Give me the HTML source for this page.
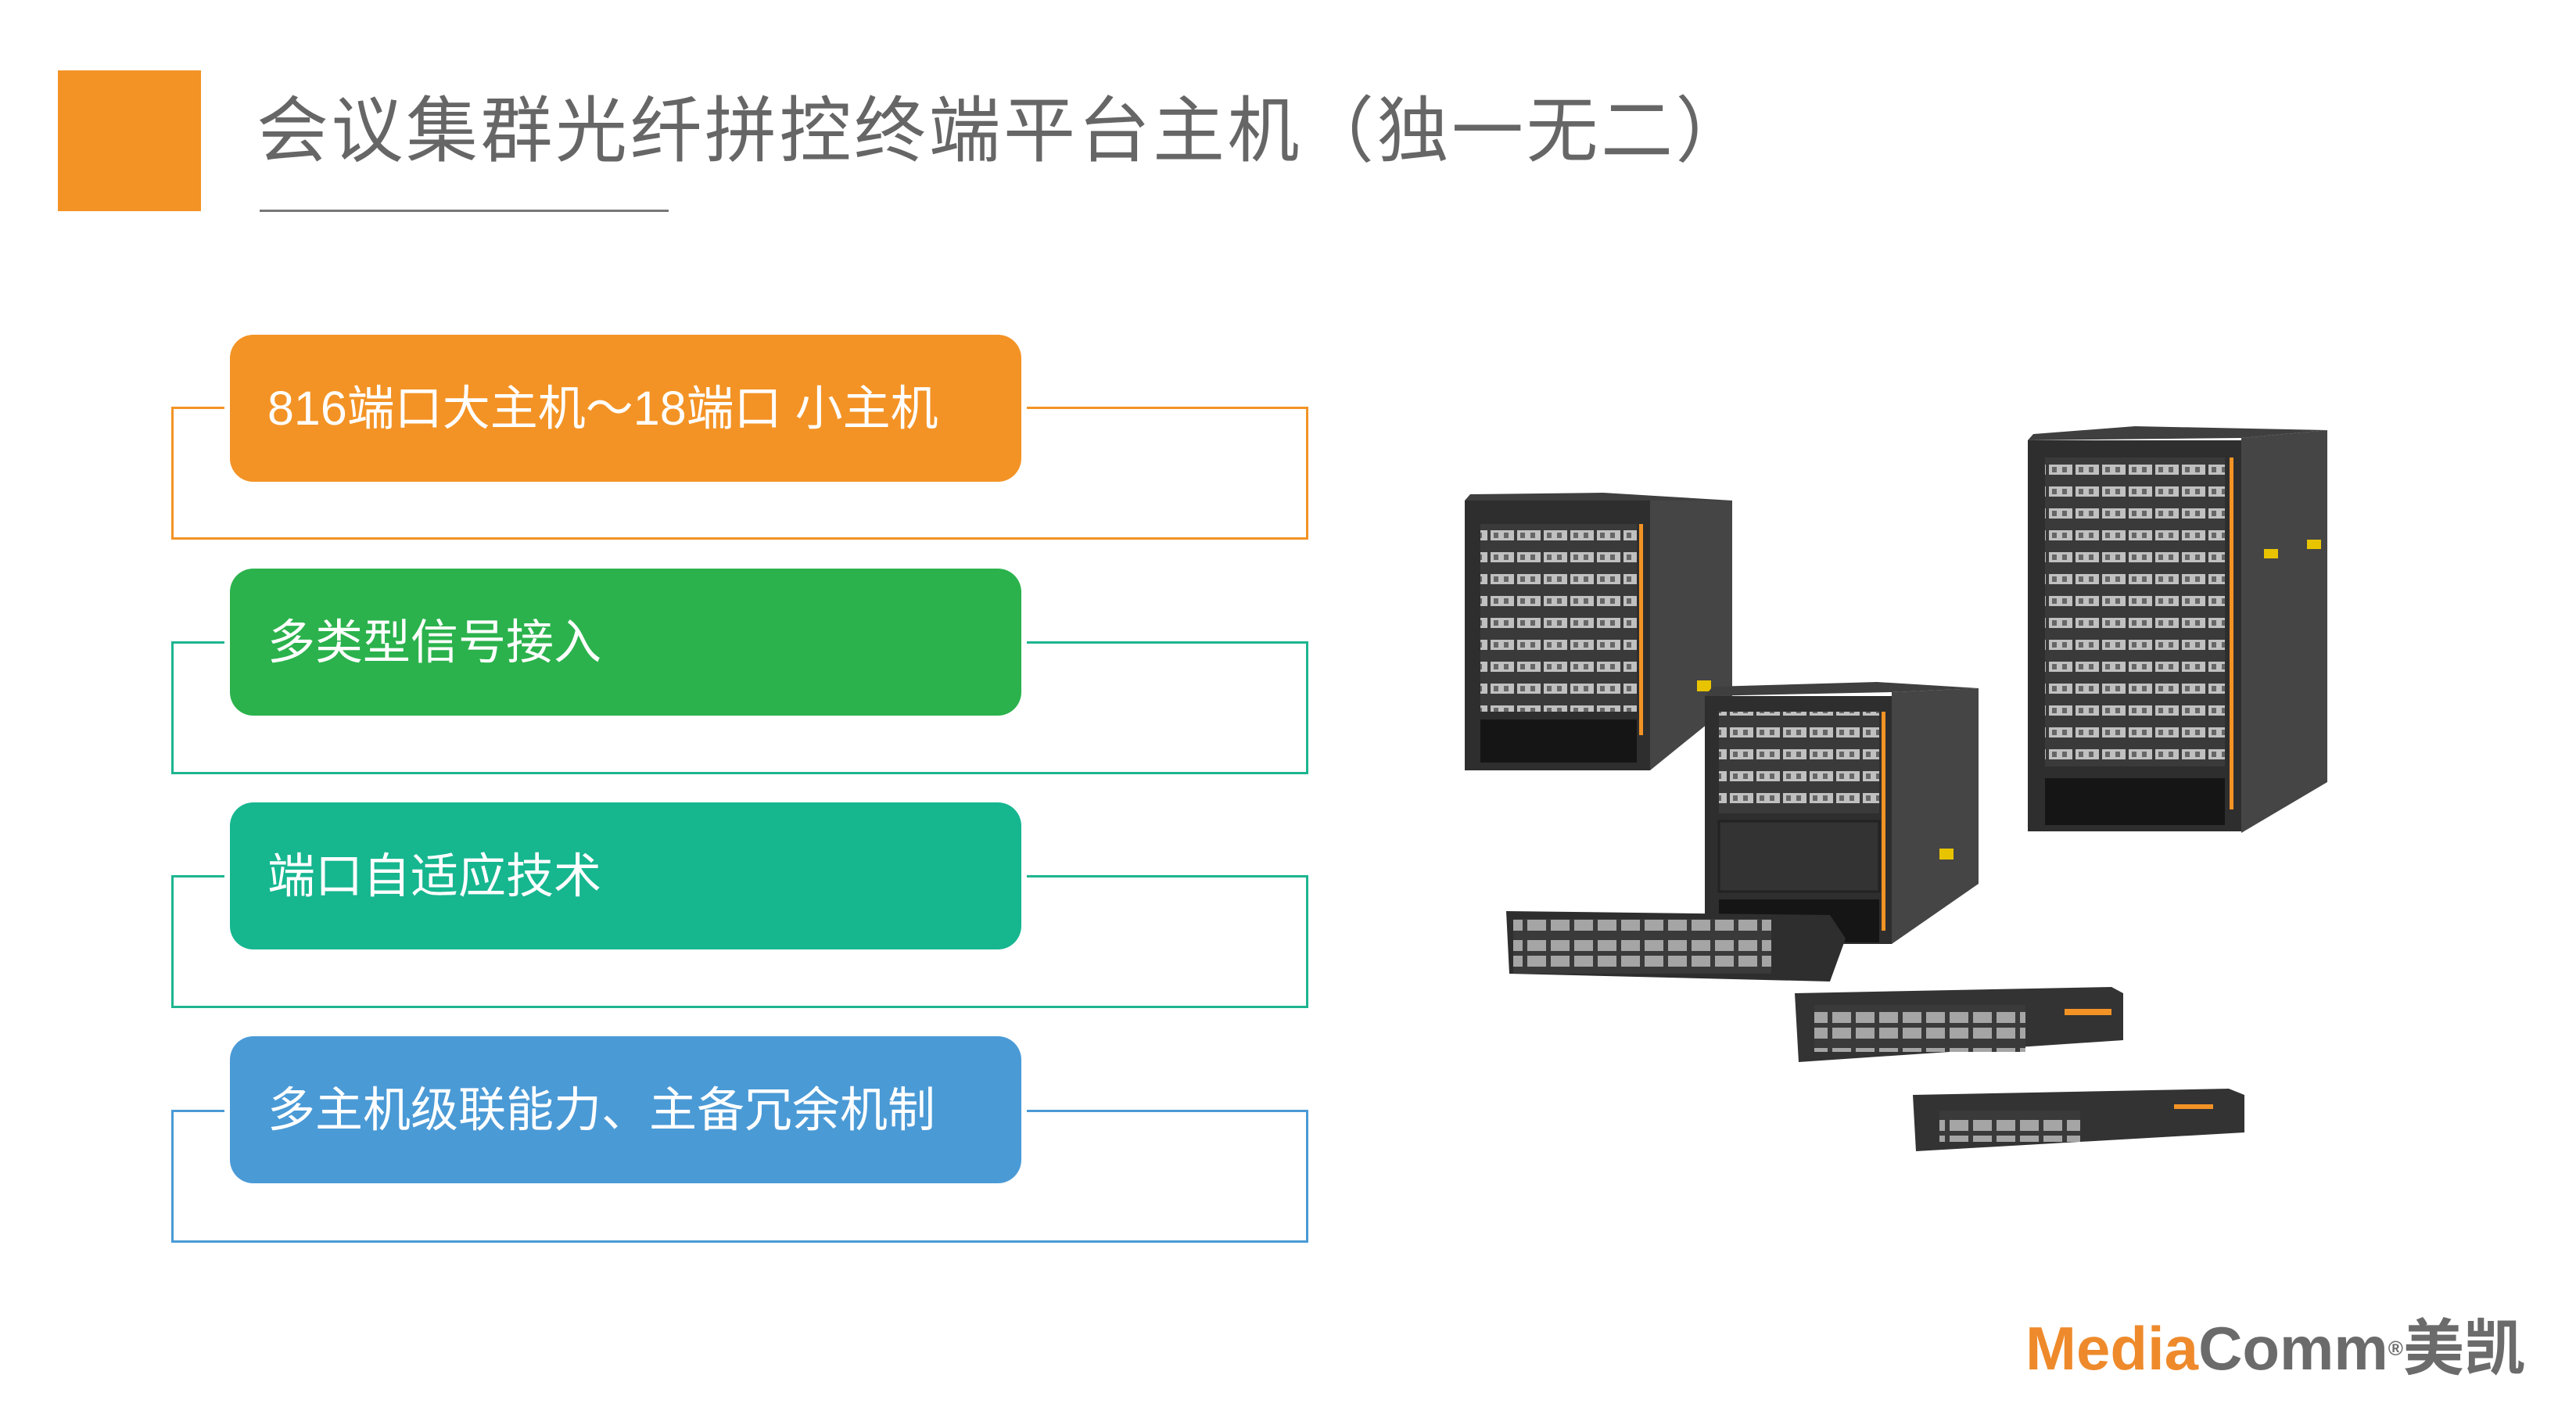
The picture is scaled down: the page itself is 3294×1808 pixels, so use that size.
<!DOCTYPE html>
<html><head><meta charset="utf-8"><style>
html,body{margin:0;padding:0;background:#fff;}
body{width:3294px;height:1808px;position:relative;overflow:hidden;font-family:"Liberation Sans","Noto Sans CJK SC",sans-serif;}
.abs{position:absolute;}
.title{left:328px;top:108px;font-size:92px;color:#666;white-space:nowrap;line-height:120px;letter-spacing:3.5px;}
.frame{position:absolute;left:219px;width:1454px;height:170px;border:3px solid;box-sizing:border-box;}
.box{position:absolute;left:294px;width:1012px;height:188px;border-radius:30px;box-shadow:0 0 0 7px #fff;color:#fff;font-size:61px;line-height:188px;padding-left:48px;box-sizing:border-box;white-space:nowrap;}
</style></head><body>
<div class="abs" style="left:74px;top:90px;width:183px;height:180px;background:#F39325;"></div>
<div class="abs title">会议集群光纤拼控终端平台主机（独一无二）</div>
<div class="abs" style="left:332px;top:268px;width:523px;height:3px;background:#777;"></div>

<div class="frame" style="top:520px;border-color:#F39325;"></div>
<div class="box" style="top:428px;background:#F39325;">816端口大主机～18端口&nbsp;小主机</div>

<div class="frame" style="top:820px;border-color:#1DB58F;"></div>
<div class="box" style="top:727px;background:#2BB24C;">多类型信号接入</div>

<div class="frame" style="top:1119px;border-color:#1DB58F;"></div>
<div class="box" style="top:1026px;background:#16B68F;">端口自适应技术</div>

<div class="frame" style="top:1419px;border-color:#4A9AD6;"></div>
<div class="box" style="top:1325px;background:#4A9AD6;">多主机级联能力、主备冗余机制</div>

<svg class="abs" style="left:0;top:0" width="3294" height="1808">
<defs>
<pattern id="ports" width="34" height="28" patternUnits="userSpaceOnUse"><rect width="34" height="28" fill="#3a3a3a"/><rect x="2" y="6" width="30" height="13" fill="#c0c0c0"/><rect x="6" y="9" width="6" height="7" fill="#666"/><rect x="19" y="9" width="6" height="7" fill="#666"/></pattern>
<pattern id="sw" width="30" height="46" patternUnits="userSpaceOnUse"><rect width="30" height="46" fill="#3a3a3a"/><rect x="3" y="6" width="24" height="14" fill="#a5a5a5"/><rect x="3" y="26" width="24" height="14" fill="#a5a5a5"/></pattern>
</defs>
<!-- right tall cabinet -->
<polygon points="2866,560 2976,550 2976,1000 2866,1065" fill="#454545"/>
<polygon points="2593,563 2866,560 2976,550 2730,545 2600,555" fill="#3f3f3f"/>
<rect x="2593" y="563" width="273" height="500" fill="#2e2e2e"/>
<rect x="2615" y="585" width="230" height="395" fill="url(#ports)"/>
<rect x="2851" y="585" width="5" height="450" fill="#F39325"/>
<rect x="2615" y="995" width="230" height="60" fill="#151515"/>
<rect x="2895" y="702" width="18" height="12" fill="#e8c400"/><rect x="2950" y="690" width="18" height="12" fill="#e8c400"/>
<!-- top-left cabinet -->
<polygon points="2110,640 2215,640 2215,900 2110,985" fill="#454545"/>
<polygon points="1873,640 2110,640 2215,640 2050,630 1880,632" fill="#3f3f3f"/>
<rect x="1873" y="640" width="237" height="345" fill="#2e2e2e"/>
<rect x="1893" y="670" width="200" height="240" fill="url(#ports)"/>
<rect x="2096" y="670" width="5" height="270" fill="#F39325"/>
<rect x="1893" y="920" width="200" height="55" fill="#151515"/>
<rect x="2170" y="870" width="18" height="14" fill="#e8c400"/>
<!-- middle cabinet -->
<polygon points="2419,885 2530,880 2530,1130 2419,1207" fill="#454545"/>
<polygon points="2180,890 2419,885 2530,880 2400,872 2190,878" fill="#3f3f3f"/>
<rect x="2180" y="890" width="239" height="317" fill="#2e2e2e"/>
<rect x="2198" y="910" width="205" height="130" fill="url(#ports)"/>
<rect x="2198" y="1050" width="205" height="90" fill="#333" stroke="#222" stroke-width="3"/>
<rect x="2406" y="910" width="5" height="280" fill="#F39325"/>
<rect x="2198" y="1150" width="205" height="55" fill="#151515"/>
<rect x="2480" y="1085" width="18" height="14" fill="#e8c400"/>
<!-- switches -->
<polygon points="1926,1165 2340,1170 2360,1200 2340,1255 1930,1245" fill="#2e2e2e"/>
<rect x="1935" y="1175" width="330" height="70" fill="url(#sw)"/>
<polygon points="2295,1270 2700,1262 2715,1270 2715,1330 2300,1358" fill="#333"/>
<rect x="2320" y="1285" width="270" height="60" fill="url(#sw)"/>
<rect x="2640" y="1290" width="60" height="8" fill="#F39325"/>
<polygon points="2446,1400 2850,1392 2870,1400 2870,1448 2450,1472" fill="#333"/>
<rect x="2480" y="1420" width="180" height="40" fill="url(#sw)"/>
<rect x="2780" y="1412" width="50" height="6" fill="#F39325"/>
</svg>

<div class="abs" style="left:2590px;top:1668px;font-size:78px;font-weight:bold;white-space:nowrap;line-height:100px;"><span style="color:#EE8A2B">Media</span><span style="color:#6b6b6b">Comm</span><sup style="font-size:26px;color:#6b6b6b;vertical-align:top;position:relative;top:6px;">®</sup><span style="color:#6b6b6b;font-family:'Noto Sans CJK SC',sans-serif;">美凯</span></div>
</body></html>
